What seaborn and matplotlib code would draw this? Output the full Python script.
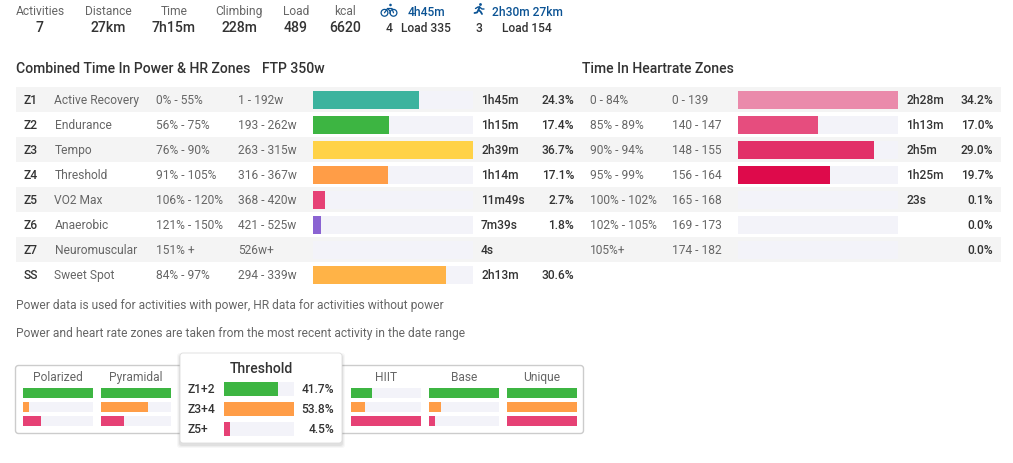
import matplotlib
matplotlib.use("Agg")
import matplotlib.pyplot as plt
from matplotlib.patches import Circle, FancyBboxPatch, Rectangle
import pandas as pd
import seaborn as sns

W, H = 1013, 463

# summary strip
stat_labels = ["Activities", "Distance", "Time", "Climbing", "Load", "kcal"]
stat_values = ["7", "27km", "7h15m", "228m", "489", "6620"]
stat_x = [40, 108, 174, 239, 296, 345]

# power zones
zones = ["Z1", "Z2", "Z3", "Z4", "Z5", "Z6", "Z7", "SS"]
zone_names = ["Active Recovery", "Endurance", "Tempo", "Threshold", "VO2 Max",
              "Anaerobic", "Neuromuscular", "Sweet Spot"]
zone_pct = ["0% - 55%", "56% - 75%", "76% - 90%", "91% - 105%", "106% - 120%",
            "121% - 150%", "151% +", "84% - 97%"]
zone_watts = ["1 - 192w", "193 - 262w", "263 - 315w", "316 - 367w", "368 - 420w",
              "421 - 525w", "526w+", "294 - 339w"]
zone_times = ["1h45m", "1h15m", "2h39m", "1h14m", "11m49s", "7m39s", "4s", "2h13m"]
zone_values = [24.3, 17.4, 36.7, 17.1, 2.7, 1.8, 0.0, 30.6]
zone_labels = ["24.3%", "17.4%", "36.7%", "17.1%", "2.7%", "1.8%", "", "30.6%"]
zone_colors = ["#3cb39e", "#3db542", "#ffd247", "#ff9d47", "#e64175", "#8a63d2",
               "#7f7f7f", "#ffb347"]

# heart rate zones
hr_pct = ["0 - 84%", "85% - 89%", "90% - 94%", "95% - 99%", "100% - 102%",
          "102% - 105%", "105%+"]
hr_bpm = ["0 - 139", "140 - 147", "148 - 155", "156 - 164", "165 - 168",
          "169 - 173", "174 - 182"]
hr_times = ["2h28m", "1h13m", "2h5m", "1h25m", "23s", "", ""]
hr_values = [34.2, 17.0, 29.0, 19.7, 0.1, 0.0, 0.0]
hr_colors = ["#ea8aab", "#e64d7e", "#e23068", "#de0a4b", "#de0a4b", "#de0a4b", "#de0a4b"]

# training style panel, bars are % of the widest bar
styles = ["Polarized", "Pyramidal", "HIIT", "Base", "Unique"]
style_x = [23, 101, 351, 429, 507]
style_green = [100, 100, 30, 100, 100]
style_orange = [9, 67, 20, 17, 100]
style_red = [26, 33, 100, 9, 100]

tip_names = ["Z1+2", "Z3+4", "Z5+"]
tip_values = [41.7, 53.8, 4.5]

GREEN, ORANGE, RED = "#3db542", "#ff9d47", "#e64175"
TRACK = "#f3f3f9"
ROW = "#f4f4f4"
DARK = "#333333"
GREY = "#666666"
BLUE = "#0b5394"
FONT = "Roboto"

sns.set_theme(style="white")
plt.rcParams["font.family"] = [FONT, "DejaVu Sans"]

fig = plt.figure(figsize=(W / 100, H / 100), dpi=100, facecolor="white")


def px_axes(left, top, right, bottom):
    ax = fig.add_axes([left / W, 1 - bottom / H, (right - left) / W, (bottom - top) / H])
    ax.patch.set_alpha(0)
    return ax


def hbars(left, top, right, bottom, names, values, colors, vmax, width):
    # track first, then the value bar over it
    ax = px_axes(left, top, right, bottom)
    df = pd.DataFrame({"name": names, "value": values, "track": [vmax] * len(names)})
    sns.barplot(data=df, x="track", y="name", color=TRACK, saturation=1, width=width,
                linewidth=0, ax=ax)
    sns.barplot(data=df, x="value", y="name", hue="name", palette=colors, saturation=1,
                width=width, dodge=False, legend=False, linewidth=0, ax=ax)
    ax.set_xlim(0, vmax)
    ax.axis("off")
    return ax


page = fig.add_axes([0, 0, 1, 1])
page.set_xlim(0, W)
page.set_ylim(H, 0)
page.axis("off")


def put(x, y, s, size=12, color=DARK, weight="normal", ha="left"):
    page.text(x, y - 0.8, s, fontsize=size * 0.72, color=color, fontweight=weight, ha=ha,
              va="center_baseline", zorder=6)


# summary
for x, label, value in zip(stat_x, stat_labels, stat_values):
    put(x, 10.5, label, color=GREY, ha="center")
    put(x, 27.5, value, size=14, weight="medium", ha="center")

put(426, 12, "4h45m", color=BLUE, weight="medium", ha="center")
put(527, 12, "2h30m 27km", color=BLUE, weight="medium", ha="center")
put(389, 28, "4", weight="medium", ha="center")
put(426, 28, "Load 335", weight="medium", ha="center")
put(479, 28, "3", weight="medium", ha="center")
put(527, 28, "Load 154", weight="medium", ha="center")

# bike icon
for cx in [384.5, 393.5]:
    page.add_patch(Circle((cx, 12.8), 3.4, fc="none", ec=BLUE, lw=0.9))
page.plot([384.5, 387.5, 392, 393.5], [12.8, 8.5, 8.5, 12.8], color=BLUE, lw=0.9)
page.plot([387.5, 390, 390], [8.5, 11, 13.5], color=BLUE, lw=0.9)
page.add_patch(Circle((390.5, 5), 1.3, fc=BLUE, ec="none"))

# runner icon
page.add_patch(Circle((480.5, 4.5), 1.4, fc=BLUE, ec="none"))
page.plot([479.5, 478.5, 480.5, 482], [7, 10, 11.5, 14], color=BLUE, lw=1.3)
page.plot([478.5, 477, 474.5], [10, 12.5, 13], color=BLUE, lw=1.3)
page.plot([475.5, 478, 479.5, 482, 484], [8.5, 7, 7, 9, 9], color=BLUE, lw=1)

# headers
put(16, 68, "Combined Time In Power & HR Zones", size=14, weight="medium")
put(262, 68, "FTP 350w", size=14, weight="medium")
put(582, 68, "Time In Heartrate Zones", size=14, weight="medium")

# striped rows and their text
for i in range(8):
    y = 100 + 25 * i
    if i % 2 == 0:
        page.add_patch(Rectangle((16, y - 13), 985, 25, fc=ROW, ec="none", zorder=0))
    put(24, y, zones[i], weight="medium")
    put(54.5, y, zone_names[i], color=GREY)
    put(155.5, y, zone_pct[i], color=GREY)
    put(238.5, y, zone_watts[i], color=GREY)
    put(481, y, zone_times[i], weight="medium")
    put(574, y, zone_labels[i], weight="medium", ha="right")

for i in range(7):
    y = 100 + 25 * i
    put(589.5, y, hr_pct[i], color=GREY)
    put(672.5, y, hr_bpm[i], color=GREY)
    put(906.5, y, hr_times[i], weight="medium")
    put(993, y, f"{hr_values[i]:.1f}%", weight="medium", ha="right")

hbars(313, 87.5, 473, 287.5, zones, zone_values, zone_colors, max(zone_values), 0.72)
hbars(738, 87.5, 898, 262.5, zones[:7], hr_values, hr_colors, max(hr_values), 0.72)

# footnotes
put(16, 305, "Power data is used for activities with power, HR data for activities without power", color=GREY)
put(16, 333, "Power and heart rate zones are taken from the most recent activity in the date range", color=GREY)

# training style panel
page.add_patch(FancyBboxPatch((18, 368), 563, 63, boxstyle="round,pad=2.5,rounding_size=3",
                              fc="white", ec="#cccccc", lw=1, zorder=1))
for n, name in enumerate(styles):
    left = style_x[n]
    put(left + 35, 377, name, color=GREY, ha="center")
    vals = [style_green[n], style_orange[n], style_red[n]]
    hbars(left, 386, left + 70, 428, tip_names, vals, [GREEN, ORANGE, RED], 100, 0.72)

# tooltip with soft shadow
for grow, alpha in [(3, 0.03), (2, 0.04), (1, 0.05)]:
    page.add_patch(FancyBboxPatch((183 - grow, 357 - grow + 2), 156 + 2 * grow, 83 + 2 * grow,
                                  boxstyle="round,pad=3,rounding_size=3", fc="black",
                                  ec="none", alpha=alpha, zorder=3))
page.add_patch(FancyBboxPatch((183, 356), 156, 84, boxstyle="round,pad=3,rounding_size=3",
                              fc="white", ec="#dddddd", lw=0.6, zorder=4))
put(261, 368, "Threshold", size=14, weight="medium", ha="center")
for i, name in enumerate(tip_names):
    y = 389 + 20 * i
    put(188, y, name, weight="medium")
    put(334, y, f"{tip_values[i]:.1f}%", weight="medium", ha="right")
tip_ax = hbars(224, 379, 294, 439, tip_names, tip_values, [GREEN, ORANGE, RED], max(tip_values), 0.7)
tip_ax.set_zorder(5)
page.set_zorder(0)

fig.savefig("out.png", dpi=100, facecolor="white")
